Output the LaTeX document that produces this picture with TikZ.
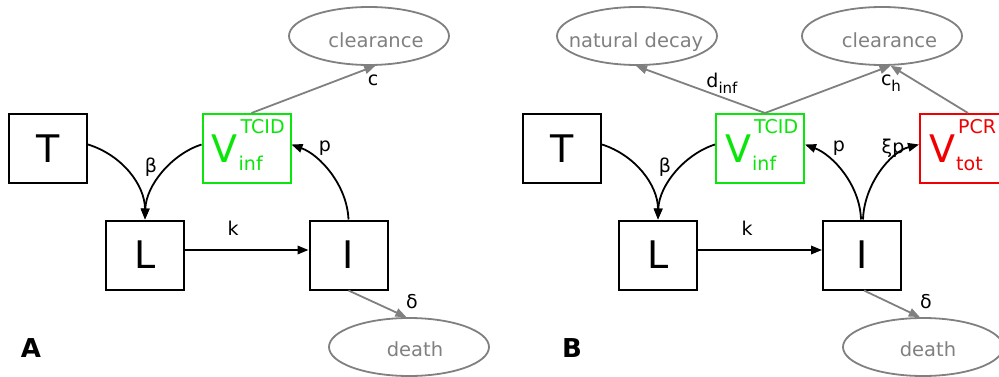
\documentclass[tikz,border=0pt]{standalone}
\usepackage{fontspec}
\setmainfont{DejaVu Sans}
\usetikzlibrary{arrows.meta,shapes.geometric,calc}
\definecolor{vgreen}{RGB}{10,230,10}
\definecolor{vred}{RGB}{240,0,0}
\definecolor{sinkgray}{RGB}{128,128,128}
\tikzset{
  cell/.style={draw=black,line width=2pt,minimum width=78pt,minimum height=69pt,inner sep=0pt,
    font=\fontsize{38}{38}\selectfont},
  vbox/.style={draw,line width=2pt,minimum width=88pt,minimum height=69pt,inner sep=0pt},
  sink/.style={ellipse,draw=sinkgray,line width=1.8pt,minimum width=160pt,minimum height=58pt,inner sep=0pt},
  sinktext/.style={anchor=base,inner sep=0pt,text=sinkgray,font=\fontsize{19.5}{19.5}\selectfont},
  bigv/.style={anchor=base west,inner sep=0pt,font=\fontsize{38}{38}\selectfont},
  smallv/.style={anchor=base west,inner sep=0pt,font=\fontsize{19}{19}\selectfont},
  rate/.style={inner sep=0pt,font=\fontsize{19}{19}\selectfont},
  flow/.style={line width=1.8pt,-{Triangle[length=11pt,width=8.5pt]}},
  loss/.style={line width=1.8pt,draw=sinkgray,-{Triangle[length=11pt,width=8.5pt]},fill=sinkgray},
  panel/.style={inner sep=0pt,font=\fontsize{26}{26}\selectfont\bfseries},
}
\newcommand{\sub}[1]{\raisebox{-0.3em}{\fontsize{15}{15}\selectfont #1}}
\begin{document}
\begin{tikzpicture}[x=1pt,y=-1pt]
\useasboundingbox (0,0) rectangle (999,377);

% ---------------- model A ----------------
\node[cell] (TA) at (48,148.5) {T};
\node[cell] (LA) at (145,255) {L};
\node[cell] (IA) at (348.5,255) {I};
\node[vbox,draw=vgreen] (VA) at (246.5,148.5) {};
\node[bigv,text=vgreen] (VAv) at ($(VA.west)+(10,14.5)$) {V};
\node[smallv,text=vgreen] (VAsup) at ($(VA.west)+(39,-14.5)$) {TCID};
\node[smallv,text=vgreen] (VAsub) at ($(VA.west)+(37,22)$) {inf};

\node[sink] (clA) at (369,36) {};
\node[sinktext] (clAt) at (376,47.7) {clearance};
\node[sink] (deA) at (409,347) {};
\node[sinktext] (deAt) at (415,356.7) {death};

\draw[flow] ($(TA.east)+(0,-4)$) .. controls (122,155) and (145,185) .. (LA.north);
\draw[flow] ($(VA.west)+(0,-4)$) .. controls (172,154) and (146,185) .. (LA.north);
\draw[flow] (LA.east |- 0,250) -- (IA.west |- 0,250);
\draw[flow] (IA.north) .. controls (347,185) and (320,155) .. ($(VA.east)+(0,-4)$);
\draw[loss] ($(VA.north)+(5,0)$) -- (clA.-78);
\draw[loss] (IA.south) -- (deA.95);

\node[rate] (bA) at (151,167) {β};
\node[rate] (kA) at (233,228) {k};
\node[rate] (pA) at (325,148) {p};
\node[rate] (cA) at (373,80) {c};
\node[rate] (dA) at (412,302) {δ};
\node[panel] (lblA) at (31,348) {A};

% ---------------- model B ----------------
\node[cell] (TB) at (562,148.5) {T};
\node[cell] (LB) at (658,255) {L};
\node[cell] (IB) at (862,255) {I};
\node[vbox,draw=vgreen] (VB) at (760,148.5) {};
\node[bigv,text=vgreen] (VBv) at ($(VB.west)+(10,14.5)$) {V};
\node[smallv,text=vgreen] (VBsup) at ($(VB.west)+(39,-14.5)$) {TCID};
\node[smallv,text=vgreen] (VBsub) at ($(VB.west)+(37,22)$) {inf};
\node[vbox,draw=vred] (VT) at (964,148.5) {};
\node[bigv,text=vred] (VTv) at ($(VT.west)+(10,14.5)$) {V};
\node[smallv,text=vred] (VTsup) at ($(VT.west)+(39,-14.5)$) {PCR};
\node[smallv,text=vred] (VTsub) at ($(VT.west)+(37,22)$) {tot};

\node[sink] (ndB) at (637,36) {};
\node[sinktext] (ndBt) at (636,47.7) {natural decay};
\node[sink] (clB) at (882,36) {};
\node[sinktext] (clBt) at (889.5,47.7) {clearance};
\node[sink] (deB) at (923,347) {};
\node[sinktext] (deBt) at (928,356.7) {death};

\draw[flow] ($(TB.east)+(0,-4)$) .. controls (635,155) and (658,185) .. (LB.north);
\draw[flow] ($(VB.west)+(0,-4)$) .. controls (685,154) and (659,185) .. (LB.north);
\draw[flow] (LB.east |- 0,250) -- (IB.west |- 0,250);
\draw[flow] ($(IB.north)+(-1,0)$) .. controls (860,185) and (833,155) .. ($(VB.east)+(0,-4)$);
\draw[flow] ($(IB.north)+(1,0)$) .. controls (864,185) and (890,152) .. ($(VT.west)+(0,-4)$);
\draw[loss] ($(VB.north)+(5,0)$) -- (ndB.-92);
\draw[loss] ($(VB.north)+(5,0)$) -- (clB.-74);
\draw[loss] ($(VT.north)+(4,0)$) -- (clB.-74);
\draw[loss] ($(IB.south)+(2,0)$) -- (deB.96);

\node[rate] (bB) at (665,167) {β};
\node[rate] (kB) at (747,228) {k};
\node[rate] (pB) at (839,148) {p};
\node[rate] (xpB) at (893,148) {ξp};
\node[rate] (dinfB) at (722,83) {d\sub{inf}};
\node[rate] (chB) at (891,83) {c\sub{h}};
\node[rate] (dB) at (926,302) {δ};
\node[panel] (lblB) at (572,348) {B};
\end{tikzpicture}
\end{document}
